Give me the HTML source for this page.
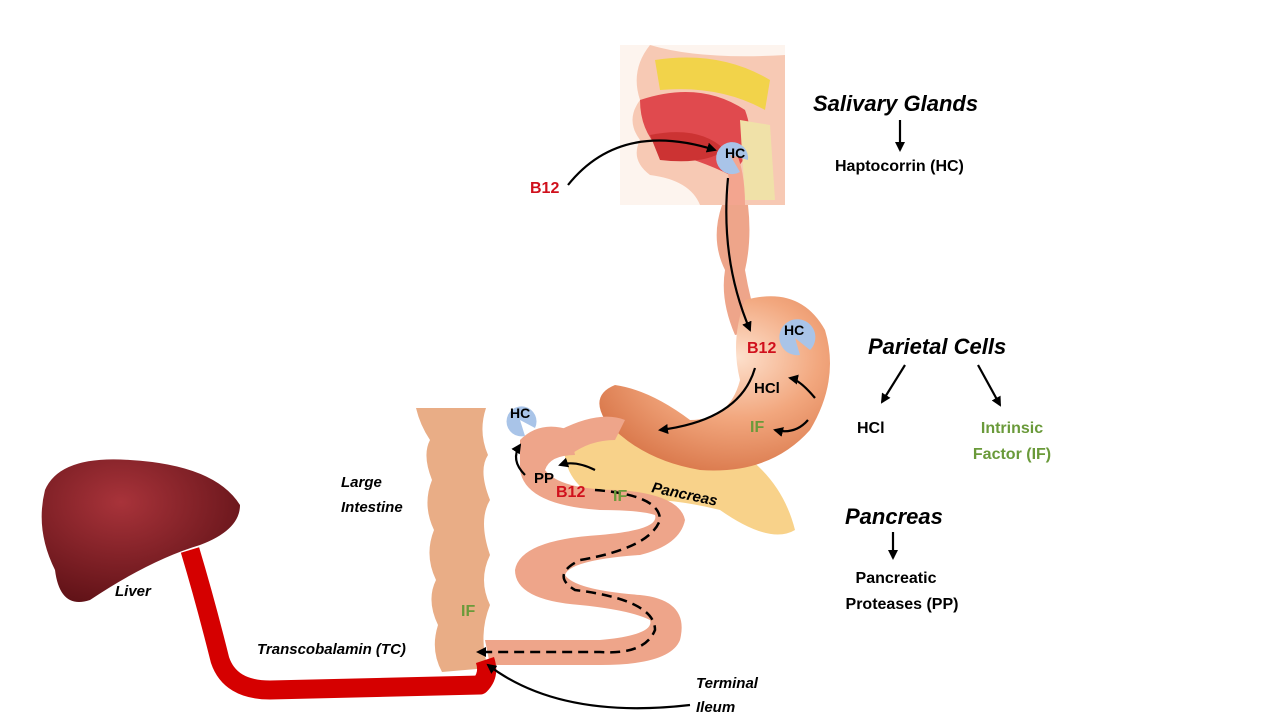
<!DOCTYPE html>
<html><head><meta charset="utf-8"><style>
html,body{margin:0;padding:0;background:#fff;}
svg{display:block;font-family:"Liberation Sans",sans-serif;}
.b{font-weight:bold;}
</style></head><body>
<svg width="1280" height="720" viewBox="0 0 1280 720">
<defs>
<radialGradient id="st" cx="0.6" cy="0.35" r="0.7">
<stop offset="0" stop-color="#fde0cc"/><stop offset="0.5" stop-color="#f2a77e"/><stop offset="1" stop-color="#d9774a"/>
</radialGradient>
<radialGradient id="lv" cx="0.4" cy="0.3" r="0.8">
<stop offset="0" stop-color="#a8333a"/><stop offset="1" stop-color="#5a0f14"/>
</radialGradient>
<marker id="ar" markerWidth="10" markerHeight="10" refX="8" refY="5" orient="auto" markerUnits="userSpaceOnUse">
<path d="M0,0 L10,5 L0,10 z" fill="#000"/></marker>
</defs>

<!-- head -->
<rect x="620" y="45" width="165" height="160" fill="#fdf4ee"/>
<path d="M650,45 Q700,60 785,55 L785,205 L700,205 Q690,180 650,175 Q630,160 640,140 Q625,120 640,100 Q630,70 650,45z" fill="#f7c9b4"/>
<path d="M655,60 Q720,50 770,80 L765,110 Q720,85 660,90z" fill="#f2d34a"/>
<path d="M640,100 Q700,80 745,110 Q760,150 730,175 Q700,160 660,150 Q640,130 640,100z" fill="#e04a4e"/>
<path d="M650,135 Q700,125 725,150 Q705,165 660,160z" fill="#c33"/>
<path d="M740,120 L770,125 L775,200 L745,200z" fill="#f0e1a8"/>
<path d="M720,150 Q735,180 725,205 L745,205 Q745,170 735,150z" fill="#f3a58f"/>

<!-- esophagus -->
<path d="M722,205 L748,205 Q752,240 745,270 Q750,300 760,330 L735,335 Q720,300 725,270 Q710,240 722,205z" fill="#eea58a"/>

<!-- pancreas -->
<path d="M565,440 Q640,420 720,440 Q780,470 795,530 Q770,545 720,510 Q660,495 600,500 Q560,480 565,440z" fill="#f8d28a"/>

<!-- stomach -->
<path d="M745,300 Q800,285 825,330 Q840,380 810,430 Q770,475 700,470 Q640,460 605,420 Q590,395 615,385 Q650,390 690,420 Q730,420 740,380 Q730,340 745,300z" fill="url(#st)"/>
<path d="M560,430 Q600,410 625,420 L615,440 Q590,440 570,455z" fill="#eea58a"/>

<!-- small intestine -->
<path d="M520,440 Q540,420 570,430 L575,455 Q550,455 545,470 Q560,490 620,490 Q680,495 685,520 Q680,545 640,555 Q570,560 565,575 Q575,590 640,595 Q690,600 680,640 Q670,665 600,665 L490,665 L485,640 L600,640 Q655,635 650,620 Q630,610 580,605 Q515,600 515,570 Q520,540 600,535 Q660,530 655,515 Q640,510 600,510 Q525,505 520,470z" fill="#eea58a"/>

<!-- large intestine -->
<path d="M416,408 L486,408 Q478,432 488,455 Q478,470 490,500 Q478,520 490,555 Q478,580 490,605 Q478,635 488,668 L442,672 Q430,650 438,625 Q426,600 436,580 Q424,555 434,530 Q422,505 432,480 Q422,455 430,440 Q420,425 416,408z" fill="#e9ad86"/>

<!-- liver -->
<path d="M45,490 Q60,455 130,460 Q215,465 240,505 Q240,530 200,545 Q150,560 90,600 Q60,610 55,570 Q35,530 45,490z" fill="url(#lv)"/>

<!-- TC tube -->
<path d="M190,550 Q205,600 220,660 Q230,690 270,690 L480,685 Q490,675 485,660" fill="none" stroke="#d50000" stroke-width="19" stroke-linejoin="round"/>

<!-- HC pacman shapes -->
<path d="M730,155 L748,160 A16,16 0 1,0 740,172z" fill="#a9c4e8"/>
<path d="M795,338 L810,350 A18,18 0 1,0 800,355z" fill="#a9c4e8"/>
<path d="M520,420 L535,428 A15,15 0 1,0 525,436z" fill="#a9c4e8"/>

<!-- arrows -->
<g fill="none" stroke="#000" stroke-width="2.2" marker-end="url(#ar)">
<path d="M568,185 Q620,120 715,150"/>
<path d="M728,178 Q720,260 750,330"/>
<path d="M755,368 Q740,420 660,430"/>
<path d="M815,398 Q800,380 790,378"/>
<path d="M808,420 Q795,435 775,430"/>
<path d="M595,470 Q575,460 560,465"/>
<path d="M525,475 Q510,460 520,445"/>
<path d="M900,120 L900,150"/>
<path d="M905,365 L882,402"/>
<path d="M978,365 L1000,405"/>
<path d="M893,532 L893,558"/>
<path d="M690,705 Q560,720 488,665"/>
</g>
<path d="M595,490 Q660,495 660,520 Q650,548 580,560 Q550,575 575,590 Q655,600 655,630 Q645,655 600,652 L478,652" fill="none" stroke="#000" stroke-width="2.5" stroke-dasharray="10,6" marker-end="url(#ar)"/>

<!-- labels -->
<g class="b" font-size="14">
<text x="725" y="158">HC</text>
<text x="784" y="335">HC</text>
<text x="510" y="418">HC</text>
<text x="754" y="393" font-size="15">HCl</text>
<text x="534" y="483" font-size="15">PP</text>
</g>
<g class="b" fill="#d0101c" font-size="16">
<text x="530" y="193">B12</text>
<text x="747" y="353">B12</text>
<text x="556" y="497">B12</text>
</g>
<g class="b" fill="#6a9a3a" font-size="16">
<text x="750" y="432">IF</text>
<text x="613" y="501">IF</text>
<text x="461" y="616">IF</text>
</g>
<g class="b" font-style="italic" font-size="22">
<text x="813" y="111">Salivary Glands</text>
<text x="868" y="354">Parietal Cells</text>
<text x="845" y="524">Pancreas</text>
</g>
<g class="b" font-size="16">
<text x="835" y="171">Haptocorrin (HC)</text>
<text x="857" y="433">HCl</text>
<text x="1012" y="433" fill="#6a9a3a" text-anchor="middle">Intrinsic</text>
<text x="1012" y="459" fill="#6a9a3a" text-anchor="middle">Factor (IF)</text>
<text x="896" y="583" text-anchor="middle">Pancreatic</text>
<text x="902" y="609" text-anchor="middle">Proteases (PP)</text>
</g>
<g class="b" font-style="italic" font-size="15">
<text x="651" y="492" transform="rotate(12 651 492)">Pancreas</text>
<text x="341" y="487">Large</text>
<text x="341" y="512">Intestine</text>
<text x="115" y="596">Liver</text>
<text x="257" y="654">Transcobalamin (TC)</text>
<text x="696" y="688">Terminal</text>
<text x="696" y="712">Ileum</text>
</g>
</svg>
</body></html>
